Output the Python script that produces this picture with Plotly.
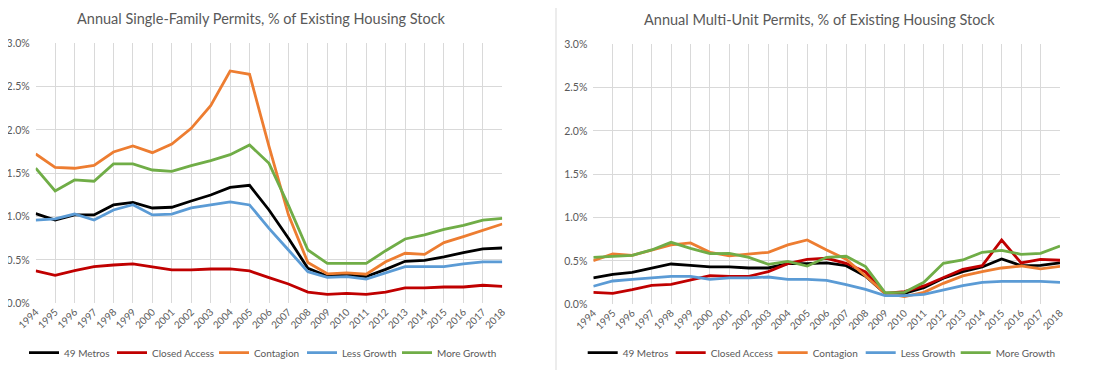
import plotly.graph_objects as go

years = list(range(1994, 2019))
series_names = ["49 Metros", "Closed Access", "Contagion", "Less Growth", "More Growth"]
colors = ["#000000", "#C00000", "#ED7D31", "#5B9BD5", "#70AD47"]

# Single-family permits, % of existing housing stock
sf_metros = [1.035, 0.96, 1.02, 1.02, 1.135, 1.165, 1.10, 1.108, 1.18, 1.25, 1.338, 1.362, 1.077, 0.75, 0.404,
             0.315, 0.327, 0.308, 0.392, 0.485, 0.496, 0.535, 0.585, 0.627, 0.638]
sf_closed = [0.373, 0.323, 0.377, 0.423, 0.442, 0.454, 0.42, 0.385, 0.385, 0.396, 0.396, 0.373, 0.296, 0.223, 0.13,
             0.104, 0.115, 0.104, 0.13, 0.177, 0.177, 0.188, 0.188, 0.208, 0.196]
sf_contagion = [1.723, 1.569, 1.558, 1.592, 1.746, 1.815, 1.738, 1.838, 2.019, 2.281, 2.681, 2.642, 1.81, 1.02, 0.47,
                0.34, 0.35, 0.335, 0.48, 0.577, 0.565, 0.70, 0.77, 0.846, 0.915]
sf_less = [0.96, 0.973, 1.03, 0.96, 1.077, 1.138, 1.02, 1.03, 1.10, 1.135, 1.17, 1.135, 0.865, 0.615, 0.365,
           0.30, 0.308, 0.28, 0.354, 0.423, 0.423, 0.423, 0.454, 0.477, 0.477]
sf_more = [1.558, 1.296, 1.423, 1.408, 1.608, 1.608, 1.538, 1.523, 1.588, 1.646, 1.715, 1.827, 1.615, 1.13, 0.615,
           0.46, 0.46, 0.46, 0.607, 0.742, 0.79, 0.854, 0.90, 0.96, 0.98]

# Multi-unit permits, % of existing housing stock
mu_metros = [0.304, 0.346, 0.369, 0.415, 0.465, 0.45, 0.431, 0.431, 0.419, 0.419, 0.469, 0.469, 0.477, 0.446, 0.323,
             0.127, 0.127, 0.192, 0.30, 0.377, 0.431, 0.523, 0.446, 0.45, 0.477]
mu_closed = [0.138, 0.127, 0.169, 0.219, 0.231, 0.277, 0.331, 0.323, 0.323, 0.377, 0.469, 0.519, 0.531, 0.473, 0.373,
             0.127, 0.146, 0.212, 0.308, 0.404, 0.446, 0.742, 0.477, 0.519, 0.508]
mu_contagion = [0.504, 0.58, 0.565, 0.627, 0.685, 0.708, 0.60, 0.558, 0.58, 0.60, 0.685, 0.742, 0.627, 0.52, 0.327,
                0.127, 0.088, 0.138, 0.242, 0.327, 0.377, 0.419, 0.442, 0.408, 0.438]
mu_less = [0.208, 0.269, 0.288, 0.304, 0.323, 0.323, 0.288, 0.304, 0.304, 0.315, 0.288, 0.288, 0.277, 0.227, 0.173,
           0.10, 0.10, 0.115, 0.165, 0.215, 0.254, 0.265, 0.265, 0.265, 0.254]
mu_more = [0.542, 0.55, 0.565, 0.627, 0.715, 0.646, 0.585, 0.588, 0.542, 0.462, 0.496, 0.442, 0.542, 0.554, 0.435,
           0.135, 0.138, 0.254, 0.473, 0.512, 0.60, 0.623, 0.577, 0.588, 0.673]

y_ticks = [0.0, 0.5, 1.0, 1.5, 2.0, 2.5, 3.0]

sf_series = [sf_metros, sf_closed, sf_contagion, sf_less, sf_more]
mu_series = [mu_metros, mu_closed, mu_contagion, mu_less, mu_more]

# width reserved for each legend entry's label (px)
legend_text_widths = [43, 57, 43, 50, 58]

# page body has an 8px margin: lay the figure out in window pixels minus that offset
OFF = 8
W, H = 1110 - OFF, 370 - OFF
FONT = "Lato"
GRAY = "#595959"
GRID = "#D9D9D9"


def fx(px):
    return (px - OFF) / W


def fy(py):
    return 1 - (py - OFF) / H


fig = go.Figure()
for name, col, vals, lw in zip(series_names, colors, sf_series, legend_text_widths):
    fig.add_trace(go.Scatter(x=years, y=vals, name=name, mode="lines",
                             line=dict(color=col, width=2.8), xaxis="x", yaxis="y",
                             legend="legend", legendwidth=lw, hoverinfo="x+y+name"))
for name, col, vals, lw in zip(series_names, colors, mu_series, legend_text_widths):
    fig.add_trace(go.Scatter(x=years, y=vals, name=name, mode="lines",
                             line=dict(color=col, width=2.8), xaxis="x2", yaxis="y2",
                             legend="legend2", legendwidth=lw, hoverinfo="x+y+name"))


def xaxis(domain, anchor):
    return dict(domain=domain, anchor=anchor, range=[1994, 2018], tickmode="array",
                tickvals=years, ticktext=[str(y) for y in years], tickangle=-45,
                showgrid=True, gridcolor=GRID, gridwidth=1, zeroline=False, automargin=False,
                showline=False, ticks="", tickfont=dict(family=FONT, size=10, color=GRAY),
                fixedrange=True)


def yaxis(domain, anchor):
    return dict(domain=domain, anchor=anchor, range=[0, 3.0], tickmode="array",
                tickvals=y_ticks, ticktext=[f"{v:.1f}%" for v in y_ticks],
                showgrid=True, gridcolor=GRID, gridwidth=1, zeroline=False, automargin=False,
                showline=False, ticks="", ticklabelstandoff=5,
                tickfont=dict(family=FONT, size=10.5, color=GRAY),
                fixedrange=True)


legend_common = dict(orientation="h", xanchor="left", yanchor="middle",
                     font=dict(family=FONT, size=10, color=GRAY),
                     bgcolor="rgba(0,0,0,0)", itemwidth=30, tracegroupgap=0, borderwidth=0)

fig.update_layout(
    template="none",
    width=W, height=H,
    margin=dict(l=0, r=0, t=0, b=0, pad=0),
    paper_bgcolor="white", plot_bgcolor="white",
    font=dict(family=FONT, color=GRAY),
    xaxis=xaxis([fx(35.7), fx(502.3)], "y"),
    yaxis=yaxis([fy(303.3), fy(43.3)], "x"),
    xaxis2=xaxis([fx(593.3), fx(1060)], "y2"),
    yaxis2=yaxis([fy(304.3), fy(44.3)], "x2"),
    legend=dict(x=fx(24), y=fy(352.7), **legend_common),
    legend2=dict(x=fx(582.7), y=fy(352.7), **legend_common),
    showlegend=True,
    annotations=[
        dict(text="Annual Single-Family Permits, % of Existing Housing Stock", x=fx(261.5), y=fy(18.5),
             xref="paper", yref="paper", xanchor="center", yanchor="middle", showarrow=False,
             font=dict(family=FONT, size=14.5, color=GRAY)),
        dict(text="Annual Multi-Unit Permits, % of Existing Housing Stock", x=fx(819), y=fy(19.5),
             xref="paper", yref="paper", xanchor="center", yanchor="middle", showarrow=False,
             font=dict(family=FONT, size=14.5, color=GRAY)),
    ],
    shapes=[
        dict(type="line", xref="paper", yref="paper", x0=fx(556), x1=fx(556), y0=0, y1=1,
             line=dict(color=GRID, width=1)),
    ],
)

fig.write_html("out.html")
